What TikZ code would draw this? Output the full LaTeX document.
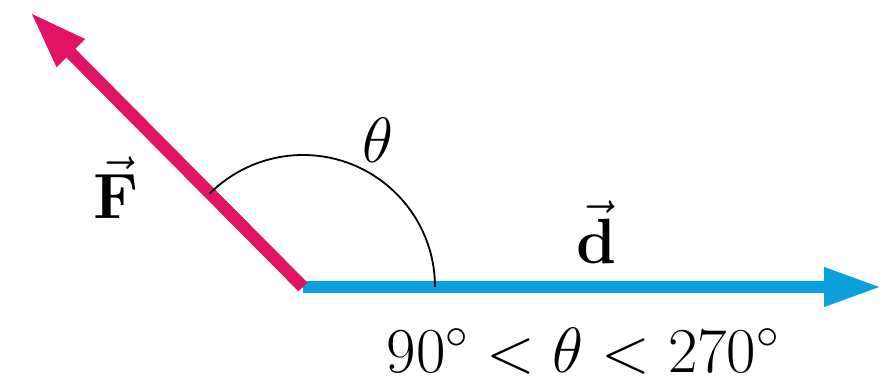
\RequirePackage{fix-cm}
\documentclass[tikz,border=0pt]{standalone}
\usetikzlibrary{arrows.meta}
\definecolor{dblue}{RGB}{10,160,220}
\definecolor{fmag}{RGB}{225,20,100}
\begin{document}
\begin{tikzpicture}[x=1pt,y=-1pt,
  vec/.style={line width=12.5pt,-{Triangle[length=58pt,width=36pt]}},
  lbl/.style={font=\fontsize{64}{70}\selectfont,inner sep=0pt}]
\useasboundingbox (0,0) rectangle (895,381);
\coordinate (O) at (303,287);
\coordinate (D) at (882,287);
\coordinate (F) at (30,12);
\draw[vec,dblue] (O) -- (D);
\draw[vec,fmag] (O) -- (F);
\draw[line width=1.8pt] ([xshift=132pt]O) arc[start angle=0,end angle=135,radius=132pt];
\node[lbl] (th) at (378,140) {$\theta$};
\node[lbl] (fl) at (116,188) {$\vec{\mathbf{F}}$};
\node[lbl] (dl) at (596,232) {$\vec{\mathbf{d}}$};
\node[lbl,text depth=0pt,anchor=base] (cond) at (583,372) {$90^\circ < \theta < 270^\circ$};
\end{tikzpicture}
\end{document}
